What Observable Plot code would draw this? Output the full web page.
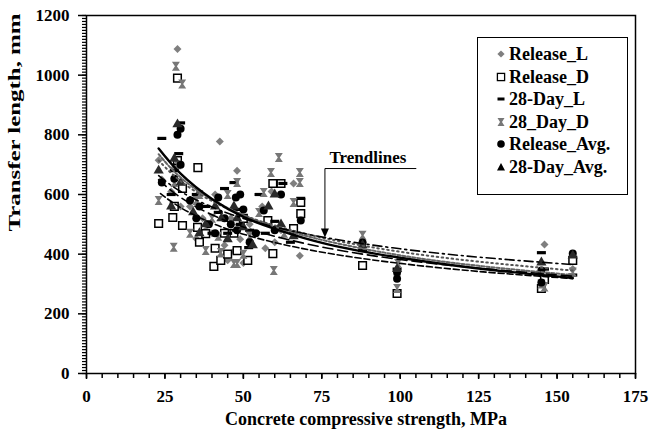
<!DOCTYPE html>
<html><head><meta charset="utf-8">
<script src="https://cdn.jsdelivr.net/npm/d3@7"></script>
<script src="https://cdn.jsdelivr.net/npm/@observablehq/plot@0.6"></script>
<style>
body{margin:0;background:#fff;}
#wrap{position:relative;width:652px;height:435px;}
#legend{position:absolute;left:477px;top:37px;width:149px;height:156px;border:1px solid #000;background:#fff;font-family:"Liberation Serif",serif;font-weight:bold;font-size:18px;color:#000;}
.item{position:absolute;left:0;height:22px;display:flex;align-items:center;white-space:nowrap;}
.item svg{margin-left:18px;margin-right:3px;}
</style></head><body><div id="wrap"></div><script>
// ---- data ----
const xTicks = [0, 25, 50, 75, 100, 125, 150, 175];
const yTicks = [0, 200, 400, 600, 800, 1000, 1200];
const seriesNames = ["Release_L", "Release_D", "28-Day_L", "28_Day_D", "Release_Avg.", "28-Day_Avg."];

const releaseL = [[23,715],[24,650],[27,610],[29,1088],[28,690],[30,560],[33,560],[35,452],[37,520],[38,480],[42.5,778],[41,600],[40,470],[44,430],[45,380],[48,680],[46,520],[49,450],[50,370],[47,410],[52,500],[56,560],[57,420],[59,610],[62,480],[66,637],[68,395],[60,440],[88,440],[99,330],[146,432],[145,330],[155,390],[155,350]];
const releaseD = [[23,503],[27.5,523],[29,990],[29,714],[30.6,620],[30.6,496],[28,560],[35.5,690],[35.4,490],[36,440],[38,469],[40.6,359],[41,420],[42.8,379],[44,470],[45,400],[47,470],[48,412],[51.4,379],[50,520],[57.8,513],[59.4,637],[62,637],[59.4,402],[66,486],[68.3,573],[68.3,536],[88,362],[99,268],[145,285],[146,315],[155,379]];
const day28L = [[24,788],[29.4,737],[30,840],[28,680],[27,600],[35,600],[38,560],[40,470],[42,540],[44,620],[45,470],[47,640],[48,550],[51.7,422],[49,500],[52,480],[55,600],[57,470],[60,510],[62.6,637],[68.3,587],[65,440],[88,412],[99,350],[145,405],[146,350],[155,330]];
const day28D = [[23,580],[28.5,1030],[30.5,970],[29,700],[27.8,423],[28,640],[33,470],[35,580],[36,600],[38,412],[42,460],[42.8,406],[40,520],[48,369],[47,369],[48,640],[45,600],[50,400],[52,460],[55,540],[56.5,607],[58.8,674],[61.3,724],[59.7,345],[63,470],[66,573],[68,674],[68,640],[88,463],[99.3,369],[99,285],[145,300],[146,290],[155,340]];
const releaseAvg = [[24,640],[28,653],[30,820],[29,800],[30,700],[33,580],[35,520],[36,560],[39,500],[41,470],[42,590],[44,520],[46,500],[47.6,590],[48,480],[49,600],[50,550],[52,440],[54,470],[56.5,546],[60,480],[62,600],[68.3,513],[88,439],[99,339],[99,318],[145,345],[145,305],[155,402]];
const day28Avg = [[23,680],[28,720],[29,835],[27,560],[30,640],[34,540],[36,470],[38,500],[41,560],[43,520],[45,450],[47,560],[48,520],[50,490],[53,430],[58,560],[60,600],[62,500],[66,460],[88,430],[99,350],[145,372],[155,395]];

// trendlines
const trendSolid   = [[23,754],[30,670],[40,585],[50,525],[60,485],[77,433],[100,388],[125,352],[155,320]];
const trendDotted  = [[23,714],[30,645],[40,578],[50,531],[60,496],[77,451],[100,408],[125,375],[155,345]];
const trendDashDot = [[23,663],[30,610],[40,558],[50,520],[60,491],[77,454],[100,418],[125,390],[155,365]];
const trendDashLow = [[23.6,603],[30,556],[40,504],[50,467],[60,439],[77,403],[100,369],[125,342],[155,318]];
const trendLongDash= [[23,649],[30,590],[40,532],[50,491],[60,460],[77,420],[100,382],[125,353],[155,326]];
const trendGray    = [[23,735],[30,657],[40,583],[50,531],[60,491],[77,443],[100,396],[125,361],[155,330]];

// annotation
const annoLabel = [{x: 89.7, y: 725, text: "Trendlines"}];
const annoPath = [[105,687],[76,687],[76,470]];
const annoTip = [[76,456]];

// ---- symbols ----
const dashSymbol = {draw(c){c.moveTo(-4.5,-1.6);c.lineTo(4.5,-1.6);c.lineTo(4.5,1.6);c.lineTo(-4.5,1.6);c.closePath();}};
const hourglass = {draw(c){c.moveTo(-4,-4.5);c.lineTo(4,-4.5);c.lineTo(1,0);c.lineTo(4,4.5);c.lineTo(-4,4.5);c.lineTo(-1,0);c.closePath();}};
const downTri = {draw(c){c.moveTo(-4,-9);c.lineTo(4,-9);c.lineTo(0,0);c.closePath();}};

const X = d => d[0], Y = d => d[1];
const FONT = "Liberation Serif";

const plot = Plot.plot({
  width: 652, height: 435,
  marginLeft: 86, marginRight: 17, marginTop: 15, marginBottom: 62,
  style: {fontFamily: FONT, fontSize: "17px", fontWeight: "bold", color: "#000", background: "#fff"},
  x: {domain: [0, 175]},
  y: {domain: [0, 1200]},
  marks: [
    Plot.axisX(d3.range(0, 176, 5), {tickSize: 5, tickFormat: () => "", label: null, strokeWidth: 1.5}),
    Plot.axisX(xTicks, {tickSize: 6, tickPadding: 10, tickFormat: d => String(d), label: null, strokeWidth: 1.5}),
    Plot.axisY(d3.range(0, 1201, 10), {tickSize: 4, tickFormat: () => "", label: null, strokeWidth: 1.2}),
    Plot.axisY(yTicks, {tickSize: 8, tickPadding: 9, tickFormat: d => String(d), label: null, strokeWidth: 1.5}),
    Plot.dot(releaseL, {x: X, y: Y, symbol: "diamond2", r: 3.6, fill: "#7f7f7f"}),
    Plot.dot(releaseD, {x: X, y: Y, symbol: "square", r: 4.3, fill: "#fff", stroke: "#000", strokeWidth: 1.5}),
    Plot.dot(day28L, {x: X, y: Y, symbol: dashSymbol, fill: "#000"}),
    Plot.dot(day28D, {x: X, y: Y, symbol: hourglass, fill: "#777"}),
    Plot.dot(releaseAvg, {x: X, y: Y, symbol: "circle", r: 4, fill: "#000"}),
    Plot.dot(day28Avg, {x: X, y: Y, symbol: "triangle", r: 3.8, fill: "#2a2a2a"}),
    Plot.line(trendGray, {x: X, y: Y, curve: "natural", stroke: "#666", strokeWidth: 2, strokeDasharray: "3,2"}),
    Plot.line(trendDotted, {x: X, y: Y, curve: "natural", stroke: "#555", strokeWidth: 2, strokeDasharray: "1.5,3.5", strokeLinecap: "round"}),
    Plot.line(trendLongDash, {x: X, y: Y, curve: "natural", stroke: "#000", strokeWidth: 1.6, strokeDasharray: "10,5"}),
    Plot.line(trendDashLow, {x: X, y: Y, curve: "natural", stroke: "#000", strokeWidth: 1.6, strokeDasharray: "6,3"}),
    Plot.line(trendDashDot, {x: X, y: Y, curve: "natural", stroke: "#000", strokeWidth: 1.6, strokeDasharray: "9,4,2,4"}),
    Plot.line(trendSolid, {x: X, y: Y, curve: "natural", stroke: "#000", strokeWidth: 2.4}),
    Plot.line(annoPath, {x: X, y: Y, stroke: "#000", strokeWidth: 1}),
    Plot.dot(annoTip, {x: X, y: Y, symbol: downTri, fill: "#000"}),
    Plot.text(annoLabel, {x: "x", y: "y", text: "text", fontSize: 17, fontWeight: "bold", fill: "#000"}),
    Plot.frame({stroke: "#000", strokeWidth: 1.5}),
    Plot.text(["Concrete compressive strength, MPa"], {frameAnchor: "bottom", dx: 5, dy: 51, fontSize: 18, fontWeight: "bold", fill: "#000"}),
    Plot.text(["Transfer length, mm"], {frameAnchor: "left", dx: -72, dy: 37, rotate: -90, fontSize: 16, fontWeight: "bold", fill: "#000"})
  ]
});
plot.querySelectorAll("text").forEach(t => {
  if (t.textContent === "Transfer length, mm") { t.setAttribute("textLength", "218"); t.setAttribute("lengthAdjust", "spacingAndGlyphs"); }
});
const wrap = document.getElementById("wrap");
wrap.appendChild(plot);

// ---- legend ----
const legendSymbols = [
  '<svg width="10" height="10" viewBox="-5 -5 10 10"><path d="M0,-3.6L3.6,0L0,3.6L-3.6,0Z" fill="#7f7f7f"/></svg>',
  '<svg width="10" height="10" viewBox="-5 -5 10 10"><rect x="-3.6" y="-3.6" width="7.2" height="7.2" fill="#fff" stroke="#000" stroke-width="1.3"/></svg>',
  '<svg width="10" height="10" viewBox="-5 -5 10 10"><rect x="-3.5" y="-1.5" width="7" height="3" fill="#000"/></svg>',
  '<svg width="10" height="10" viewBox="-5 -5 10 10"><path d="M-3.5,-4L3.5,-4L1,0L3.5,4L-3.5,4L-1,0Z" fill="#777"/></svg>',
  '<svg width="10" height="10" viewBox="-5 -5 10 10"><circle r="3.8" fill="#000"/></svg>',
  '<svg width="10" height="10" viewBox="-5 -5 10 10"><path d="M0,-4L4,3.5L-4,3.5Z" fill="#000"/></svg>'
];
const legend = document.createElement("div");
legend.id = "legend";
const rowCenters = [16, 39, 61, 84, 106, 129];
seriesNames.forEach((name, i) => {
  const row = document.createElement("div");
  row.className = "item";
  row.style.top = (rowCenters[i] - 11) + "px";
  row.innerHTML = legendSymbols[i] + "<span>" + name + "</span>";
  legend.appendChild(row);
});
wrap.appendChild(legend);
</script></body></html>
